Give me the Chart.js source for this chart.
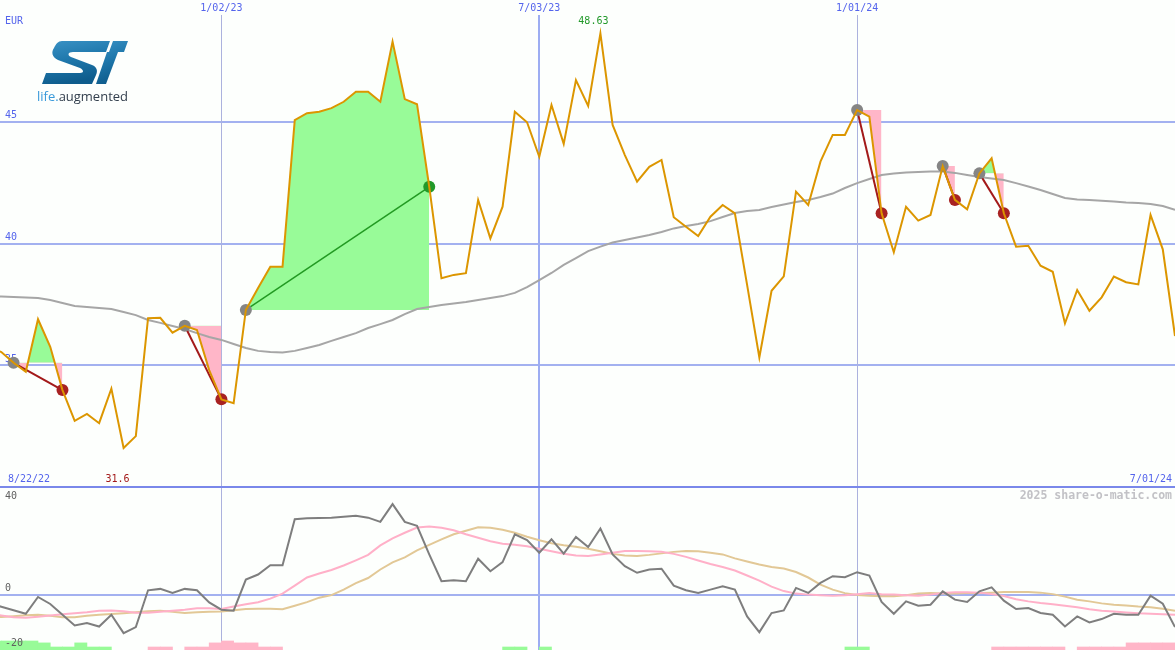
<!DOCTYPE html>
<html>
<head>
<meta charset="utf-8">
<script src="https://cdn.jsdelivr.net/npm/chart.js@4/dist/chart.umd.min.js"></script>
<style>
html,body{margin:0;padding:0;background:#FDFFFD;}
#wrap{position:relative;width:1175px;height:650px;overflow:hidden;background:#FDFFFD;}
#main{position:absolute;left:0;top:0;width:1175px;height:487px;}
#osc{position:absolute;left:0;top:486px;width:1175px;height:164px;}
#logo{position:absolute;left:0;top:0;pointer-events:none;}
</style>
</head>
<body>
<div id="wrap">
<canvas id="main" width="1175" height="487"></canvas>
<canvas id="osc" width="1175" height="164"></canvas>
<svg id="logo" width="200" height="120" viewBox="0 0 200 120">
  <defs>
    <linearGradient id="stg" x1="0" y1="0" x2="0.3" y2="1">
      <stop offset="0" stop-color="#3B93C6"/>
      <stop offset="0.5" stop-color="#1F78AC"/>
      <stop offset="1" stop-color="#0E5C8C"/>
    </linearGradient>
  </defs>
  <path fill="url(#stg)" d="M62 41 L110 41 L106 52 L73 52 C68 52 67 55 71 57 L92 65 C97 67 98 71 96 75 L92 84 L42 84 L46 73 L80 73 C84 73 84 70 80 68 L58 60 C52 57 51 52 54 48 C56 44 58 41 62 41 Z"/>
  <path fill="url(#stg)" d="M113 41 L128 41 L124 52 L118 52 L106 84 L96 84 L107 52 L109 52 Z"/>
  <text x="37" y="101" font-family="'Open Sans', 'DejaVu Sans', sans-serif" font-size="13" textLength="91" lengthAdjust="spacingAndGlyphs"><tspan fill="#3A9ADA">life.</tspan><tspan fill="#34404E">augmented</tspan></text>
</svg>
</div>
<script>
// ---- categories / ticks ----
const startLabel = '8/22/22';
const endLabel = '7/01/24';
const tickLabels = ['1/02/23', '7/03/23', '1/01/24'];
const tickWeeks = [19, 45, 71];
const priceLevels = [45, 40, 35];
const oscLevels = [40, 0, -20];
const currency = 'EUR';
const watermark = '2025 share-o-matic.com';

// ---- weekly close (EUR) ----
const price = [
35.75, 35.54, 35.10, 34.73, 36.89, 35.76, 33.98, 32.72, 33.00, 32.62,
34.04, 31.60, 32.09, 36.93, 36.95, 36.34, 36.62, 36.45, 34.80, 33.60,
33.44, 37.27, 38.17, 39.05, 39.05, 45.07, 45.35, 45.41, 45.56, 45.82,
46.23, 46.23, 45.82, 48.29, 45.93, 45.72, 42.33, 38.57, 38.71, 38.78,
41.79, 40.21, 41.51, 45.41, 44.98, 43.56, 45.69, 44.09, 46.71, 45.65,
48.63, 44.87, 43.63, 42.54, 43.15, 43.43, 41.08, 40.69, 40.31, 41.10,
41.58, 41.24, 38.30, 35.32, 38.06, 38.65, 42.13, 41.58, 43.36, 44.46,
44.46, 45.48, 45.21, 41.24, 39.64, 41.51, 40.94, 41.17, 43.18, 41.79,
41.40, 42.88, 43.50, 41.24, 39.87, 39.91, 39.09, 38.84, 36.72, 38.09,
37.24, 37.79, 38.64, 38.41, 38.32, 41.17, 39.76, 36.20
];
// ---- moving average ----
const movingAvg = [
37.84, 37.82, 37.80, 37.78, 37.76, 37.68, 37.56, 37.43, 37.39, 37.35,
37.31, 37.19, 37.06, 36.86, 36.74, 36.61, 36.49, 36.32, 36.16, 36.04,
35.87, 35.71, 35.59, 35.54, 35.52, 35.59, 35.71, 35.83, 36.00, 36.16,
36.32, 36.53, 36.69, 36.86, 37.10, 37.31, 37.39, 37.47, 37.54, 37.60,
37.68, 37.76, 37.84, 37.97, 38.21, 38.50, 38.79, 39.12, 39.40, 39.69,
39.87, 40.04, 40.14, 40.25, 40.35, 40.47, 40.62, 40.72, 40.80, 40.92,
41.09, 41.25, 41.33, 41.38, 41.50, 41.60, 41.70, 41.79, 41.91, 42.05,
42.28, 42.48, 42.65, 42.81, 42.87, 42.92, 42.94, 42.96, 42.96, 42.90,
42.81, 42.73, 42.67, 42.61, 42.48, 42.34, 42.20, 42.03, 41.87, 41.81,
41.79, 41.76, 41.72, 41.68, 41.66, 41.62, 41.54, 41.38
];
// ---- oscillator ----
const momentum = [
-3.06, -4.16, -5.45, -6.74, -0.59, -3.17, -7.10, -11.04, -10.16, -11.41,
-7.10, -13.84, -11.63, 1.84, 2.36, 0.88, 2.36, 1.84, -2.58, -5.26,
-5.63, 5.78, 7.62, 11.04, 11.04, 27.86, 28.23, 28.31, 28.42, 28.78,
29.08, 28.42, 26.87, 33.39, 26.87, 25.40, 14.98, 5.15, 5.52, 5.15,
13.40, 8.83, 12.15, 22.34, 20.25, 15.61, 20.50, 15.24, 21.35, 17.67,
24.44, 14.98, 10.67, 8.25, 9.46, 9.72, 3.57, 1.84, 0.88, 2.10,
3.31, 2.10, -7.73, -13.47, -6.48, -5.52, 2.72, 0.88, 4.56, 6.99,
6.63, 8.47, 7.25, -2.43, -6.74, -2.21, -3.79, -3.42, 1.47, -1.58,
-2.43, 1.47, 2.94, -1.95, -5.01, -4.64, -6.48, -7.10, -11.41, -7.73,
-9.94, -8.69, -6.74, -7.10, -7.10, -0.11, -3.06, -11.63
];
const momFast = [
-7.10, -7.36, -8.02, -8.21, -7.84, -7.36, -6.92, -6.55, -6.18, -5.63,
-5.52, -5.82, -6.37, -6.37, -6.00, -5.63, -5.26, -4.71, -4.71, -5.01,
-4.05, -3.24, -2.50, -1.21, 0.63, 3.57, 6.52, 7.99, 9.28, 10.90,
12.80, 14.80, 18.29, 20.87, 22.90, 24.81, 25.18, 24.74, 23.82, 22.34,
21.05, 19.77, 18.85, 18.48, 17.93, 17.01, 16.09, 15.24, 14.61, 14.43,
14.98, 15.61, 16.20, 16.20, 16.09, 15.98, 15.17, 14.06, 12.77, 11.48,
10.38, 9.09, 7.25, 5.41, 3.20, 1.55, 0.63, 0.26, 0.07, -0.11,
0.07, 0.44, 0.81, 0.44, 0.26, 0.07, -0.11, 0.26, 0.81, 1.10,
1.10, 0.99, 0.44, -0.22, -1.40, -2.21, -2.80, -3.24, -3.79, -4.34,
-5.08, -5.63, -5.89, -6.26, -6.55, -6.74, -6.92, -7.10
];
const momSlow = [
-7.84, -7.95, -7.66, -7.29, -7.10, -7.47, -8.02, -8.02, -7.47, -7.10,
-6.85, -6.55, -6.18, -5.82, -5.63, -6.00, -6.48, -6.18, -6.00, -5.89,
-5.45, -5.01, -4.90, -4.90, -5.08, -3.79, -2.50, -0.85, 0.07, 2.10,
4.49, 6.33, 9.46, 12.04, 13.88, 16.45, 18.48, 20.50, 22.34, 23.63,
24.92, 24.74, 24.00, 22.90, 21.42, 20.13, 19.03, 18.29, 17.74, 17.01,
16.09, 15.17, 14.61, 14.36, 14.80, 15.35, 15.90, 16.20, 16.09, 15.61,
14.98, 13.51, 12.40, 11.30, 10.38, 9.83, 8.54, 6.52, 3.94, 2.10,
0.81, 0.15, -0.11, -0.29, -0.29, 0.07, 0.63, 0.81, 0.63, 0.63,
0.81, 0.88, 0.99, 1.18, 1.25, 1.18, 0.99, 0.44, -0.48, -1.58,
-2.21, -2.94, -3.42, -3.72, -4.09, -4.34, -4.90, -5.63
];
// signal strength (positive = buy zone, negative = sell zone)
const signals = [
3.3, 3.3, 3.3, 3.3, 2.6, 1.1, 1.1, 2.6, 1.1, 1.1,
0, 0, 0, -1.1, -1.1, 0, -1.1, -1.1, -2.6, -3.3,
-2.6, -2.6, -1.1, -1.1, 0, 0, 0, 0, 0, 0,
0, 0, 0, 0, 0, 0, 0, 0, 0, 0,
0, 0, 1.1, 1.1, 0, 1.1, 0, 0, 0, 0,
0, 0, 0, 0, 0, 0, 0, 0, 0, 0,
0, 0, 0, 0, 0, 0, 0, 0, 0, 0,
1.1, 1.1, 0, 0, 0, 0, 0, 0, 0, 0,
0, 0, -1.1, -1.1, -1.1, -1.1, -1.1, -1.1, 0, -1.1,
-1.1, -1.1, -1.1, -2.6, -2.6, -2.6, -2.6, 0
];
// ---- trades (week index) ----
const tradeEntry = [2, 16, 21, 71, 78, 81];
const tradeExit  = [6, 19, 36, 73, 79, 83];

// ---- styles ----
const C = {
  price: '#DC9600', ma: '#A6A6A6', grid: '#A3B1F0', vgrid: '#ACB2DE', vgridMid: '#9DADF2',
  label: '#5464EC', sep: '#7A88EA', winLine: '#229A22', lossLine: '#A31A1A',
  entry: '#858585', winPt: '#22992A', lossPt: '#A82222', up: '#98FB98', down: '#FFB6C8',
  mom: '#7E7E7E', fast: '#FFB0C8', slow: '#E2C896', oscLabel: '#606060', wm: '#C2C2C6',
  maxLbl: '#22992A', minLbl: '#A31A1A'
};
const MONO = '"DejaVu Sans Mono", "Liberation Mono", monospace';
const XMIN = 0.89, XMAX = 97;

const pts = arr => arr.map((v, i) => ({x: i, y: v}));

// ---- main chart datasets ----
const mainSets = [];
mainSets.push({type: 'line', data: pts(price), borderColor: C.price, borderWidth: 2, pointRadius: 0, tension: 0, fill: false, order: 0});
tradeEntry.forEach((e, k) => {
  const x = tradeExit[k];
  const win = price[x] > price[e];
  mainSets.push({type: 'line', data: [{x: e, y: price[e]}, {x: x, y: price[x]}],
    borderColor: win ? C.winLine : C.lossLine, borderWidth: win ? 1.5 : 2,
    pointRadius: 6, pointBorderWidth: 0, pointBackgroundColor: [C.entry, win ? C.winPt : C.lossPt],
    tension: 0, fill: false, order: 1});
});
mainSets.push({type: 'line', data: pts(movingAvg), borderColor: C.ma, borderWidth: 2, pointRadius: 0, tension: 0, fill: false, order: 2});
tradeEntry.forEach((e, k) => {
  const x = tradeExit[k];
  const seg = [];
  for (let i = e; i <= x; i++) seg.push({x: i, y: price[i]});
  mainSets.push({type: 'line', data: seg, borderColor: 'rgba(0,0,0,0)', borderWidth: 0, pointRadius: 0, tension: 0,
    backgroundColor: C.up, fill: {target: {value: price[e]}, above: C.up, below: C.down}, order: 3});
});

const mainDecor = {
  id: 'mainDecor',
  beforeDatasetsDraw(chart) {
    const {ctx, chartArea: a, scales: {x, y}} = chart;
    ctx.save();
    ctx.lineWidth = 2; ctx.strokeStyle = C.grid;
    priceLevels.forEach(v => {
      const py = Math.round(y.getPixelForValue(v));
      ctx.beginPath(); ctx.moveTo(a.left, py); ctx.lineTo(a.right, py); ctx.stroke();
    });
    tickWeeks.forEach((w, i) => {
      const mid = i === 1;
      const px = x.getPixelForValue(w);
      const xx = mid ? Math.round(px) : Math.floor(px) + 0.5;
      ctx.lineWidth = mid ? 2 : 1; ctx.strokeStyle = mid ? C.vgridMid : C.vgrid;
      ctx.beginPath(); ctx.moveTo(xx, 15); ctx.lineTo(xx, a.bottom); ctx.stroke();
    });
    ctx.font = '10px ' + MONO; ctx.fillStyle = C.label; ctx.textBaseline = 'middle';
    ctx.textAlign = 'center';
    tickWeeks.forEach((w, i) => ctx.fillText(tickLabels[i], x.getPixelForValue(w), 8));
    ctx.textAlign = 'left';
    ctx.fillText(currency, 5, 21);
    priceLevels.forEach(v => ctx.fillText(String(v), 5, y.getPixelForValue(v) - 6));
    ctx.fillText(startLabel, 8, a.bottom - 8);
    ctx.textAlign = 'right';
    ctx.fillText(endLabel, a.right - 3, a.bottom - 8);
    // extremes
    let iMax = 0, iMin = 0;
    price.forEach((v, i) => { if (v > price[iMax]) iMax = i; if (v < price[iMin]) iMin = i; });
    ctx.textAlign = 'center';
    ctx.fillStyle = C.maxLbl;
    ctx.fillText(String(price[iMax]), x.getPixelForValue(iMax) - 7, 21);
    ctx.fillStyle = C.minLbl;
    ctx.fillText(String(price[iMin]), x.getPixelForValue(iMin) - 6, a.bottom - 8);
    ctx.restore();
  }
};

const common = {
  responsive: false, maintainAspectRatio: false, animation: false, events: [],
  layout: {padding: 0, autoPadding: false},
  plugins: {legend: {display: false}, tooltip: {enabled: false}},
};

new Chart(document.getElementById('main'), {
  type: 'line',
  data: {datasets: mainSets},
  options: Object.assign({}, common, {
    scales: {
      x: {type: 'linear', min: XMIN, max: XMAX, display: false, offset: false},
      y: {type: 'linear', min: 30, max: 50, display: false}
    }
  }),
  plugins: [mainDecor]
});

// ---- oscillator chart ----
const barData = [];
signals.forEach((s, i) => { if (s !== 0) barData.push({x: i + 0.5, y: [-20, -20 + Math.abs(s)], s: s}); });

const oscDecor = {
  id: 'oscDecor',
  beforeDatasetsDraw(chart) {
    const {ctx, chartArea: a, scales: {x, y}} = chart;
    ctx.save();
    tickWeeks.forEach((w, i) => {
      const mid = i === 1;
      const px = x.getPixelForValue(w);
      const xx = mid ? Math.round(px) : Math.floor(px) + 0.5;
      ctx.lineWidth = mid ? 2 : 1; ctx.strokeStyle = mid ? C.vgridMid : C.vgrid;
      ctx.beginPath(); ctx.moveTo(xx, 2); ctx.lineTo(xx, a.bottom); ctx.stroke();
    });
    const y0 = Math.round(y.getPixelForValue(0));
    ctx.lineWidth = 2; ctx.strokeStyle = C.grid;
    ctx.beginPath(); ctx.moveTo(a.left, y0); ctx.lineTo(a.right, y0); ctx.stroke();
    ctx.strokeStyle = C.sep;
    ctx.beginPath(); ctx.moveTo(a.left, 1); ctx.lineTo(a.right, 1); ctx.stroke();
    ctx.restore();
  },
  afterDatasetsDraw(chart) {
    const {ctx, chartArea: a, scales: {y}} = chart;
    ctx.save();
    ctx.font = '10px ' + MONO; ctx.fillStyle = C.oscLabel; ctx.textBaseline = 'middle'; ctx.textAlign = 'left';
    oscLevels.forEach(v => {
      const py = y.getPixelForValue(v);
      const ty = v === oscLevels[0] ? py + 10 : py - 7;
      ctx.fillText(String(v), 5, ty);
    });
    ctx.font = 'bold 11.5px ' + MONO; ctx.fillStyle = C.wm; ctx.textAlign = 'right';
    ctx.fillText(watermark, a.right - 3, 10);
    ctx.restore();
  }
};

new Chart(document.getElementById('osc'), {
  type: 'line',
  data: {datasets: [
    {type: 'line', data: pts(momentum), borderColor: C.mom, borderWidth: 2, pointRadius: 0, tension: 0, fill: false, order: 0},
    {type: 'line', data: pts(momFast), borderColor: C.fast, borderWidth: 2, pointRadius: 0, tension: 0, fill: false, order: 1},
    {type: 'line', data: pts(momSlow), borderColor: C.slow, borderWidth: 2, pointRadius: 0, tension: 0, fill: false, order: 2},
    {type: 'bar', data: barData, backgroundColor: ctx => (ctx.raw && ctx.raw.s > 0) ? C.up : C.down,
      borderWidth: 0, barPercentage: 1, categoryPercentage: 1, grouped: false, order: 3}
  ]},
  options: Object.assign({}, common, {
    scales: {
      x: {type: 'linear', min: XMIN, max: XMAX, display: false, offset: false, grid: {offset: false}},
      y: {type: 'linear', min: -20, max: 40, display: false}
    }
  }),
  plugins: [oscDecor]
});
</script>
</body>
</html>
